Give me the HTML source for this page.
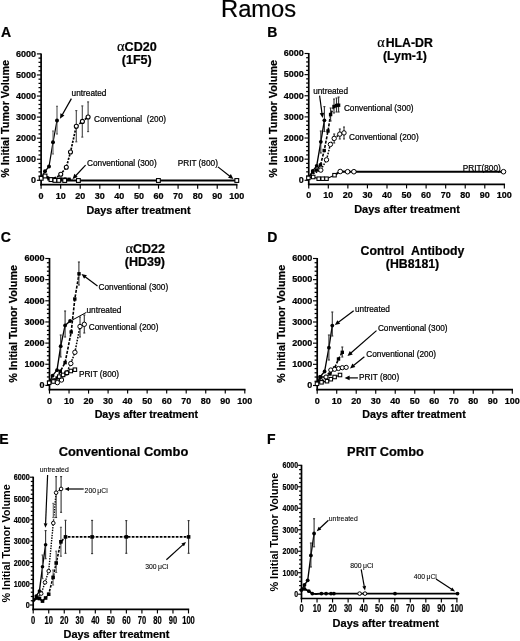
<!DOCTYPE html>
<html><head><meta charset="utf-8"><style>
html,body{margin:0;padding:0;background:#fff;}
svg{display:block;will-change:transform;}
text{font-family:"Liberation Sans", sans-serif;stroke:#000;stroke-width:0.22px;}
</style></head><body>
<svg width="520" height="641" viewBox="0 0 520 641">
<rect x="0" y="0" width="520" height="641" fill="#fff"/>
<text x="258.60" y="16.70" font-size="23.7" font-weight="normal" text-anchor="middle" fill="#000" >Ramos</text>
<text x="1.00" y="37.00" font-size="14" font-weight="bold" text-anchor="start" fill="#000" >A</text>
<text x="267.30" y="37.00" font-size="14" font-weight="bold" text-anchor="start" fill="#000" >B</text>
<text x="0.80" y="242.00" font-size="14" font-weight="bold" text-anchor="start" fill="#000" >C</text>
<text x="267.30" y="242.00" font-size="14" font-weight="bold" text-anchor="start" fill="#000" >D</text>
<text x="-0.80" y="443.90" font-size="14" font-weight="bold" text-anchor="start" fill="#000" >E</text>
<text x="266.90" y="443.80" font-size="14" font-weight="bold" text-anchor="start" fill="#000" >F</text>
<line x1="41.10" y1="53.40" x2="41.10" y2="185.50" stroke="#000" stroke-width="1.7" />
<line x1="40.30" y1="184.70" x2="237.50" y2="184.70" stroke="#000" stroke-width="1.7" />
<line x1="36.90" y1="180.30" x2="41.10" y2="180.30" stroke="#000" stroke-width="1.15" />
<line x1="38.50" y1="176.09" x2="41.10" y2="176.09" stroke="#000" stroke-width="1.25" />
<line x1="38.50" y1="171.87" x2="41.10" y2="171.87" stroke="#000" stroke-width="1.25" />
<line x1="38.50" y1="167.66" x2="41.10" y2="167.66" stroke="#000" stroke-width="1.25" />
<line x1="38.50" y1="163.45" x2="41.10" y2="163.45" stroke="#000" stroke-width="1.25" />
<line x1="36.90" y1="159.23" x2="41.10" y2="159.23" stroke="#000" stroke-width="1.15" />
<line x1="38.50" y1="155.02" x2="41.10" y2="155.02" stroke="#000" stroke-width="1.25" />
<line x1="38.50" y1="150.81" x2="41.10" y2="150.81" stroke="#000" stroke-width="1.25" />
<line x1="38.50" y1="146.59" x2="41.10" y2="146.59" stroke="#000" stroke-width="1.25" />
<line x1="38.50" y1="142.38" x2="41.10" y2="142.38" stroke="#000" stroke-width="1.25" />
<line x1="36.90" y1="138.17" x2="41.10" y2="138.17" stroke="#000" stroke-width="1.15" />
<line x1="38.50" y1="133.95" x2="41.10" y2="133.95" stroke="#000" stroke-width="1.25" />
<line x1="38.50" y1="129.74" x2="41.10" y2="129.74" stroke="#000" stroke-width="1.25" />
<line x1="38.50" y1="125.53" x2="41.10" y2="125.53" stroke="#000" stroke-width="1.25" />
<line x1="38.50" y1="121.31" x2="41.10" y2="121.31" stroke="#000" stroke-width="1.25" />
<line x1="36.90" y1="117.10" x2="41.10" y2="117.10" stroke="#000" stroke-width="1.15" />
<line x1="38.50" y1="112.89" x2="41.10" y2="112.89" stroke="#000" stroke-width="1.25" />
<line x1="38.50" y1="108.67" x2="41.10" y2="108.67" stroke="#000" stroke-width="1.25" />
<line x1="38.50" y1="104.46" x2="41.10" y2="104.46" stroke="#000" stroke-width="1.25" />
<line x1="38.50" y1="100.25" x2="41.10" y2="100.25" stroke="#000" stroke-width="1.25" />
<line x1="36.90" y1="96.03" x2="41.10" y2="96.03" stroke="#000" stroke-width="1.15" />
<line x1="38.50" y1="91.82" x2="41.10" y2="91.82" stroke="#000" stroke-width="1.25" />
<line x1="38.50" y1="87.61" x2="41.10" y2="87.61" stroke="#000" stroke-width="1.25" />
<line x1="38.50" y1="83.39" x2="41.10" y2="83.39" stroke="#000" stroke-width="1.25" />
<line x1="38.50" y1="79.18" x2="41.10" y2="79.18" stroke="#000" stroke-width="1.25" />
<line x1="36.90" y1="74.97" x2="41.10" y2="74.97" stroke="#000" stroke-width="1.15" />
<line x1="38.50" y1="70.75" x2="41.10" y2="70.75" stroke="#000" stroke-width="1.25" />
<line x1="38.50" y1="66.54" x2="41.10" y2="66.54" stroke="#000" stroke-width="1.25" />
<line x1="38.50" y1="62.33" x2="41.10" y2="62.33" stroke="#000" stroke-width="1.25" />
<line x1="38.50" y1="58.11" x2="41.10" y2="58.11" stroke="#000" stroke-width="1.25" />
<line x1="36.90" y1="53.90" x2="41.10" y2="53.90" stroke="#000" stroke-width="1.15" />
<text x="36.10" y="183.09" font-size="9" font-weight="bold" text-anchor="end" fill="#000" >0</text>
<text x="36.10" y="162.02" font-size="9" font-weight="bold" text-anchor="end" fill="#000" >1000</text>
<text x="36.10" y="140.96" font-size="9" font-weight="bold" text-anchor="end" fill="#000" >2000</text>
<text x="36.10" y="119.89" font-size="9" font-weight="bold" text-anchor="end" fill="#000" >3000</text>
<text x="36.10" y="98.82" font-size="9" font-weight="bold" text-anchor="end" fill="#000" >4000</text>
<text x="36.10" y="77.76" font-size="9" font-weight="bold" text-anchor="end" fill="#000" >5000</text>
<text x="36.10" y="56.69" font-size="9" font-weight="bold" text-anchor="end" fill="#000" >6000</text>
<line x1="41.10" y1="184.70" x2="41.10" y2="188.70" stroke="#000" stroke-width="1.15" />
<text x="41.10" y="198.70" font-size="9" font-weight="bold" text-anchor="middle" fill="#000" >0</text>
<line x1="60.67" y1="184.70" x2="60.67" y2="188.70" stroke="#000" stroke-width="1.15" />
<text x="60.67" y="198.70" font-size="9" font-weight="bold" text-anchor="middle" fill="#000" >10</text>
<line x1="80.24" y1="184.70" x2="80.24" y2="188.70" stroke="#000" stroke-width="1.15" />
<text x="80.24" y="198.70" font-size="9" font-weight="bold" text-anchor="middle" fill="#000" >20</text>
<line x1="99.81" y1="184.70" x2="99.81" y2="188.70" stroke="#000" stroke-width="1.15" />
<text x="99.81" y="198.70" font-size="9" font-weight="bold" text-anchor="middle" fill="#000" >30</text>
<line x1="119.38" y1="184.70" x2="119.38" y2="188.70" stroke="#000" stroke-width="1.15" />
<text x="119.38" y="198.70" font-size="9" font-weight="bold" text-anchor="middle" fill="#000" >40</text>
<line x1="138.95" y1="184.70" x2="138.95" y2="188.70" stroke="#000" stroke-width="1.15" />
<text x="138.95" y="198.70" font-size="9" font-weight="bold" text-anchor="middle" fill="#000" >50</text>
<line x1="158.52" y1="184.70" x2="158.52" y2="188.70" stroke="#000" stroke-width="1.15" />
<text x="158.52" y="198.70" font-size="9" font-weight="bold" text-anchor="middle" fill="#000" >60</text>
<line x1="178.09" y1="184.70" x2="178.09" y2="188.70" stroke="#000" stroke-width="1.15" />
<text x="178.09" y="198.70" font-size="9" font-weight="bold" text-anchor="middle" fill="#000" >70</text>
<line x1="197.66" y1="184.70" x2="197.66" y2="188.70" stroke="#000" stroke-width="1.15" />
<text x="197.66" y="198.70" font-size="9" font-weight="bold" text-anchor="middle" fill="#000" >80</text>
<line x1="217.23" y1="184.70" x2="217.23" y2="188.70" stroke="#000" stroke-width="1.15" />
<text x="217.23" y="198.70" font-size="9" font-weight="bold" text-anchor="middle" fill="#000" >90</text>
<line x1="236.80" y1="184.70" x2="236.80" y2="188.70" stroke="#000" stroke-width="1.15" />
<text x="236.80" y="198.70" font-size="9" font-weight="bold" text-anchor="middle" fill="#000" >100</text>
<text transform="translate(8.90,118.85) rotate(-90)" x="0" y="0" font-size="10.8" font-weight="bold" text-anchor="middle">% Initial Tumor Volume</text>
<text x="138.55" y="213.85" font-size="10.75" font-weight="bold" text-anchor="middle" fill="#000" >Days after treatment</text>
<text x="136.90" y="50.70" font-size="12.6" font-weight="bold" text-anchor="middle" fill="#000" ><tspan font-family="Liberation Serif" font-weight="normal" font-size="1.15em">&#945;</tspan>CD20</text>
<text x="136.75" y="64.00" font-size="12.6" font-weight="bold" text-anchor="middle" fill="#000" >(1F5)</text>
<polyline points="41.20,178.30 45.00,176.00 51.00,179.60 54.90,180.40 58.80,180.40 64.70,180.50 78.40,180.50 158.40,180.50 236.80,180.50" fill="none" stroke="#000" stroke-width="2.2" stroke-linejoin="round"/>
<polyline points="41.20,178.50 45.00,177.00 49.00,178.50 53.00,179.00 57.00,179.20 61.00,179.20 65.00,179.00 69.00,179.50 73.00,179.50" fill="none" stroke="#000" stroke-width="1.4" stroke-dasharray="2,1.2" stroke-linejoin="round"/>
<rect x="47.30" y="177.10" width="3.4" height="3.4" fill="#000"/>
<rect x="51.30" y="177.30" width="3.4" height="3.4" fill="#000"/>
<rect x="55.30" y="177.50" width="3.4" height="3.4" fill="#000"/>
<rect x="59.30" y="177.30" width="3.4" height="3.4" fill="#000"/>
<rect x="63.30" y="177.30" width="3.4" height="3.4" fill="#000"/>
<rect x="67.30" y="177.60" width="3.4" height="3.4" fill="#000"/>
<polyline points="41.20,178.30 45.00,171.30 49.00,166.50 53.00,142.30 57.00,120.60" fill="none" stroke="#000" stroke-width="1.2" stroke-linejoin="round"/>
<line x1="53.00" y1="131.00" x2="53.00" y2="154.00" stroke="#666" stroke-width="1.1" />
<line x1="52.00" y1="131.00" x2="54.00" y2="131.00" stroke="#666" stroke-width="1.1" />
<line x1="52.00" y1="154.00" x2="54.00" y2="154.00" stroke="#666" stroke-width="1.1" />
<line x1="57.00" y1="106.30" x2="57.00" y2="134.00" stroke="#555" stroke-width="1.1" />
<line x1="56.00" y1="106.30" x2="58.00" y2="106.30" stroke="#555" stroke-width="1.1" />
<line x1="56.00" y1="134.00" x2="58.00" y2="134.00" stroke="#555" stroke-width="1.1" />
<circle cx="45.00" cy="171.30" r="2.0" fill="#000"/>
<circle cx="49.00" cy="166.50" r="2.0" fill="#000"/>
<circle cx="53.00" cy="142.30" r="2.0" fill="#000"/>
<circle cx="57.00" cy="120.60" r="2.0" fill="#000"/>
<polyline points="41.20,178.30 45.00,175.80 49.00,177.50 53.00,178.50 57.00,177.00 60.75,174.20 66.30,167.30 70.50,152.00 76.30,126.20 82.40,121.40 88.10,117.00" fill="none" stroke="#000" stroke-width="1.7" stroke-dasharray="2.2,1.3" stroke-linejoin="round"/>
<line x1="76.30" y1="110.60" x2="76.30" y2="141.80" stroke="#444" stroke-width="1.1" />
<line x1="75.30" y1="110.60" x2="77.30" y2="110.60" stroke="#444" stroke-width="1.1" />
<line x1="75.30" y1="141.80" x2="77.30" y2="141.80" stroke="#444" stroke-width="1.1" />
<line x1="82.30" y1="105.90" x2="82.30" y2="137.10" stroke="#444" stroke-width="1.1" />
<line x1="81.30" y1="105.90" x2="83.30" y2="105.90" stroke="#444" stroke-width="1.1" />
<line x1="81.30" y1="137.10" x2="83.30" y2="137.10" stroke="#444" stroke-width="1.1" />
<line x1="88.10" y1="101.90" x2="88.10" y2="131.60" stroke="#444" stroke-width="1.1" />
<line x1="87.10" y1="101.90" x2="89.10" y2="101.90" stroke="#444" stroke-width="1.1" />
<line x1="87.10" y1="131.60" x2="89.10" y2="131.60" stroke="#444" stroke-width="1.1" />
<circle cx="60.75" cy="174.20" r="2.0" fill="#fff" stroke="#000" stroke-width="1.1"/>
<circle cx="66.30" cy="167.30" r="2.0" fill="#fff" stroke="#000" stroke-width="1.1"/>
<circle cx="70.50" cy="152.00" r="2.0" fill="#fff" stroke="#000" stroke-width="1.1"/>
<circle cx="76.30" cy="126.20" r="2.0" fill="#fff" stroke="#000" stroke-width="1.1"/>
<circle cx="82.40" cy="121.40" r="2.0" fill="#fff" stroke="#000" stroke-width="1.1"/>
<circle cx="88.10" cy="117.00" r="2.0" fill="#fff" stroke="#000" stroke-width="1.1"/>
<rect x="39.30" y="176.40" width="3.8" height="3.8" fill="#fff" stroke="#000" stroke-width="1.1"/>
<rect x="43.10" y="174.10" width="3.8" height="3.8" fill="#fff" stroke="#000" stroke-width="1.1"/>
<rect x="49.10" y="177.70" width="3.8" height="3.8" fill="#fff" stroke="#000" stroke-width="1.1"/>
<rect x="53.00" y="178.50" width="3.8" height="3.8" fill="#fff" stroke="#000" stroke-width="1.1"/>
<rect x="56.90" y="178.50" width="3.8" height="3.8" fill="#fff" stroke="#000" stroke-width="1.1"/>
<rect x="62.80" y="178.60" width="3.8" height="3.8" fill="#fff" stroke="#000" stroke-width="1.1"/>
<rect x="76.50" y="178.60" width="3.8" height="3.8" fill="#fff" stroke="#000" stroke-width="1.1"/>
<rect x="156.50" y="178.60" width="3.8" height="3.8" fill="#fff" stroke="#000" stroke-width="1.1"/>
<rect x="234.90" y="178.60" width="3.8" height="3.8" fill="#fff" stroke="#000" stroke-width="1.1"/>
<text x="71.60" y="96.30" font-size="8.25" font-weight="normal" text-anchor="start" fill="#000" >untreated</text>
<line x1="71.40" y1="98.60" x2="62.21" y2="114.88" stroke="#000" stroke-width="1.2" />
<polygon points="60.00,118.80 60.45,113.32 64.46,115.58" fill="#000"/>
<text x="94.00" y="122.20" font-size="8.25" font-weight="normal" text-anchor="start" fill="#000" >Conventional&#160;&#160;(200)</text>
<text x="87.00" y="165.50" font-size="8.25" font-weight="normal" text-anchor="start" fill="#000" >Conventional (300)</text>
<line x1="85.60" y1="165.20" x2="75.69" y2="175.72" stroke="#000" stroke-width="1.2" />
<polygon points="72.60,179.00 74.35,173.78 77.70,176.94" fill="#000"/>
<text x="177.70" y="166.20" font-size="8.25" font-weight="normal" text-anchor="start" fill="#000" >PRIT (800)</text>
<line x1="217.90" y1="166.90" x2="229.85" y2="176.23" stroke="#000" stroke-width="1.2" />
<polygon points="233.40,179.00 228.04,177.74 230.87,174.11" fill="#000"/>
<line x1="308.75" y1="53.00" x2="308.75" y2="185.20" stroke="#000" stroke-width="1.7" />
<line x1="307.95" y1="184.40" x2="505.05" y2="184.40" stroke="#000" stroke-width="1.7" />
<line x1="304.55" y1="180.30" x2="308.75" y2="180.30" stroke="#000" stroke-width="1.15" />
<line x1="306.15" y1="176.07" x2="308.75" y2="176.07" stroke="#000" stroke-width="1.25" />
<line x1="306.15" y1="171.85" x2="308.75" y2="171.85" stroke="#000" stroke-width="1.25" />
<line x1="306.15" y1="167.62" x2="308.75" y2="167.62" stroke="#000" stroke-width="1.25" />
<line x1="306.15" y1="163.39" x2="308.75" y2="163.39" stroke="#000" stroke-width="1.25" />
<line x1="304.55" y1="159.17" x2="308.75" y2="159.17" stroke="#000" stroke-width="1.15" />
<line x1="306.15" y1="154.94" x2="308.75" y2="154.94" stroke="#000" stroke-width="1.25" />
<line x1="306.15" y1="150.71" x2="308.75" y2="150.71" stroke="#000" stroke-width="1.25" />
<line x1="306.15" y1="146.49" x2="308.75" y2="146.49" stroke="#000" stroke-width="1.25" />
<line x1="306.15" y1="142.26" x2="308.75" y2="142.26" stroke="#000" stroke-width="1.25" />
<line x1="304.55" y1="138.03" x2="308.75" y2="138.03" stroke="#000" stroke-width="1.15" />
<line x1="306.15" y1="133.81" x2="308.75" y2="133.81" stroke="#000" stroke-width="1.25" />
<line x1="306.15" y1="129.58" x2="308.75" y2="129.58" stroke="#000" stroke-width="1.25" />
<line x1="306.15" y1="125.35" x2="308.75" y2="125.35" stroke="#000" stroke-width="1.25" />
<line x1="306.15" y1="121.13" x2="308.75" y2="121.13" stroke="#000" stroke-width="1.25" />
<line x1="304.55" y1="116.90" x2="308.75" y2="116.90" stroke="#000" stroke-width="1.15" />
<line x1="306.15" y1="112.67" x2="308.75" y2="112.67" stroke="#000" stroke-width="1.25" />
<line x1="306.15" y1="108.45" x2="308.75" y2="108.45" stroke="#000" stroke-width="1.25" />
<line x1="306.15" y1="104.22" x2="308.75" y2="104.22" stroke="#000" stroke-width="1.25" />
<line x1="306.15" y1="99.99" x2="308.75" y2="99.99" stroke="#000" stroke-width="1.25" />
<line x1="304.55" y1="95.77" x2="308.75" y2="95.77" stroke="#000" stroke-width="1.15" />
<line x1="306.15" y1="91.54" x2="308.75" y2="91.54" stroke="#000" stroke-width="1.25" />
<line x1="306.15" y1="87.31" x2="308.75" y2="87.31" stroke="#000" stroke-width="1.25" />
<line x1="306.15" y1="83.09" x2="308.75" y2="83.09" stroke="#000" stroke-width="1.25" />
<line x1="306.15" y1="78.86" x2="308.75" y2="78.86" stroke="#000" stroke-width="1.25" />
<line x1="304.55" y1="74.63" x2="308.75" y2="74.63" stroke="#000" stroke-width="1.15" />
<line x1="306.15" y1="70.41" x2="308.75" y2="70.41" stroke="#000" stroke-width="1.25" />
<line x1="306.15" y1="66.18" x2="308.75" y2="66.18" stroke="#000" stroke-width="1.25" />
<line x1="306.15" y1="61.95" x2="308.75" y2="61.95" stroke="#000" stroke-width="1.25" />
<line x1="306.15" y1="57.73" x2="308.75" y2="57.73" stroke="#000" stroke-width="1.25" />
<line x1="304.55" y1="53.50" x2="308.75" y2="53.50" stroke="#000" stroke-width="1.15" />
<text x="303.75" y="183.09" font-size="9" font-weight="bold" text-anchor="end" fill="#000" >0</text>
<text x="303.75" y="161.96" font-size="9" font-weight="bold" text-anchor="end" fill="#000" >1000</text>
<text x="303.75" y="140.82" font-size="9" font-weight="bold" text-anchor="end" fill="#000" >2000</text>
<text x="303.75" y="119.69" font-size="9" font-weight="bold" text-anchor="end" fill="#000" >3000</text>
<text x="303.75" y="98.56" font-size="9" font-weight="bold" text-anchor="end" fill="#000" >4000</text>
<text x="303.75" y="77.42" font-size="9" font-weight="bold" text-anchor="end" fill="#000" >5000</text>
<text x="303.75" y="56.29" font-size="9" font-weight="bold" text-anchor="end" fill="#000" >6000</text>
<line x1="308.75" y1="184.40" x2="308.75" y2="188.40" stroke="#000" stroke-width="1.15" />
<text x="308.75" y="198.40" font-size="9" font-weight="bold" text-anchor="middle" fill="#000" >0</text>
<line x1="328.31" y1="184.40" x2="328.31" y2="188.40" stroke="#000" stroke-width="1.15" />
<text x="328.31" y="198.40" font-size="9" font-weight="bold" text-anchor="middle" fill="#000" >10</text>
<line x1="347.87" y1="184.40" x2="347.87" y2="188.40" stroke="#000" stroke-width="1.15" />
<text x="347.87" y="198.40" font-size="9" font-weight="bold" text-anchor="middle" fill="#000" >20</text>
<line x1="367.43" y1="184.40" x2="367.43" y2="188.40" stroke="#000" stroke-width="1.15" />
<text x="367.43" y="198.40" font-size="9" font-weight="bold" text-anchor="middle" fill="#000" >30</text>
<line x1="386.99" y1="184.40" x2="386.99" y2="188.40" stroke="#000" stroke-width="1.15" />
<text x="386.99" y="198.40" font-size="9" font-weight="bold" text-anchor="middle" fill="#000" >40</text>
<line x1="406.55" y1="184.40" x2="406.55" y2="188.40" stroke="#000" stroke-width="1.15" />
<text x="406.55" y="198.40" font-size="9" font-weight="bold" text-anchor="middle" fill="#000" >50</text>
<line x1="426.11" y1="184.40" x2="426.11" y2="188.40" stroke="#000" stroke-width="1.15" />
<text x="426.11" y="198.40" font-size="9" font-weight="bold" text-anchor="middle" fill="#000" >60</text>
<line x1="445.67" y1="184.40" x2="445.67" y2="188.40" stroke="#000" stroke-width="1.15" />
<text x="445.67" y="198.40" font-size="9" font-weight="bold" text-anchor="middle" fill="#000" >70</text>
<line x1="465.23" y1="184.40" x2="465.23" y2="188.40" stroke="#000" stroke-width="1.15" />
<text x="465.23" y="198.40" font-size="9" font-weight="bold" text-anchor="middle" fill="#000" >80</text>
<line x1="484.79" y1="184.40" x2="484.79" y2="188.40" stroke="#000" stroke-width="1.15" />
<text x="484.79" y="198.40" font-size="9" font-weight="bold" text-anchor="middle" fill="#000" >90</text>
<line x1="504.35" y1="184.40" x2="504.35" y2="188.40" stroke="#000" stroke-width="1.15" />
<text x="504.35" y="198.40" font-size="9" font-weight="bold" text-anchor="middle" fill="#000" >100</text>
<text transform="translate(276.60,118.90) rotate(-90)" x="0" y="0" font-size="10.8" font-weight="bold" text-anchor="middle">% Initial Tumor Volume</text>
<text x="407.05" y="212.70" font-size="10.95" font-weight="bold" text-anchor="middle" fill="#000" >Days after treatment</text>
<text x="405.00" y="47.10" font-size="12.3" font-weight="bold" text-anchor="middle" fill="#000" ><tspan font-family="Liberation Serif" font-weight="normal" font-size="1.15em">&#945;</tspan>&#8202;HLA-DR</text>
<text x="404.90" y="60.00" font-size="12.3" font-weight="bold" text-anchor="middle" fill="#000" >(Lym-1)</text>
<polyline points="308.40,177.90 313.20,177.00 318.70,178.70 322.70,178.70 326.50,178.70 334.50,175.20" fill="none" stroke="#000" stroke-width="1.2" stroke-linejoin="round"/>
<polyline points="334.50,175.20 340.20,171.50 347.60,171.70 353.90,171.70 503.50,171.70" fill="none" stroke="#000" stroke-width="2.0" stroke-linejoin="round"/>
<polyline points="308.60,177.50 312.70,171.00 316.70,165.80 320.80,141.80 324.40,120.30" fill="none" stroke="#000" stroke-width="1.35" stroke-linejoin="round"/>
<line x1="320.80" y1="131.00" x2="320.80" y2="153.00" stroke="#333" stroke-width="1.1" />
<line x1="319.80" y1="131.00" x2="321.80" y2="131.00" stroke="#333" stroke-width="1.1" />
<line x1="319.80" y1="153.00" x2="321.80" y2="153.00" stroke="#333" stroke-width="1.1" />
<line x1="324.40" y1="106.60" x2="324.40" y2="131.50" stroke="#333" stroke-width="1.1" />
<line x1="323.40" y1="106.60" x2="325.40" y2="106.60" stroke="#333" stroke-width="1.1" />
<line x1="323.40" y1="131.50" x2="325.40" y2="131.50" stroke="#333" stroke-width="1.1" />
<circle cx="312.70" cy="171.00" r="1.9" fill="#000"/>
<circle cx="316.70" cy="165.80" r="1.9" fill="#000"/>
<circle cx="320.80" cy="141.80" r="1.9" fill="#000"/>
<circle cx="324.40" cy="120.30" r="1.9" fill="#000"/>
<polyline points="308.60,177.50 312.70,172.00 316.70,170.00 320.50,165.00 324.20,150.50 328.00,131.00 330.60,114.50 334.00,106.50 336.50,105.50 338.60,105.20" fill="none" stroke="#000" stroke-width="1.6" stroke-dasharray="3,1.4" stroke-linejoin="round"/>
<line x1="330.60" y1="108.00" x2="330.60" y2="121.00" stroke="#333" stroke-width="1.1" />
<line x1="329.60" y1="108.00" x2="331.60" y2="108.00" stroke="#333" stroke-width="1.1" />
<line x1="329.60" y1="121.00" x2="331.60" y2="121.00" stroke="#333" stroke-width="1.1" />
<line x1="334.00" y1="99.00" x2="334.00" y2="113.00" stroke="#333" stroke-width="1.1" />
<line x1="333.00" y1="99.00" x2="335.00" y2="99.00" stroke="#333" stroke-width="1.1" />
<line x1="333.00" y1="113.00" x2="335.00" y2="113.00" stroke="#333" stroke-width="1.1" />
<line x1="336.50" y1="98.00" x2="336.50" y2="112.00" stroke="#333" stroke-width="1.1" />
<line x1="335.50" y1="98.00" x2="337.50" y2="98.00" stroke="#333" stroke-width="1.1" />
<line x1="335.50" y1="112.00" x2="337.50" y2="112.00" stroke="#333" stroke-width="1.1" />
<line x1="338.60" y1="97.00" x2="338.60" y2="112.00" stroke="#333" stroke-width="1.1" />
<line x1="337.60" y1="97.00" x2="339.60" y2="97.00" stroke="#333" stroke-width="1.1" />
<line x1="337.60" y1="112.00" x2="339.60" y2="112.00" stroke="#333" stroke-width="1.1" />
<rect x="311.00" y="170.30" width="3.4" height="3.4" fill="#000"/>
<rect x="315.00" y="168.30" width="3.4" height="3.4" fill="#000"/>
<rect x="318.80" y="163.30" width="3.4" height="3.4" fill="#000"/>
<rect x="322.50" y="148.80" width="3.4" height="3.4" fill="#000"/>
<rect x="326.30" y="129.30" width="3.4" height="3.4" fill="#000"/>
<rect x="328.90" y="112.80" width="3.4" height="3.4" fill="#000"/>
<rect x="332.30" y="104.80" width="3.4" height="3.4" fill="#000"/>
<rect x="334.80" y="103.80" width="3.4" height="3.4" fill="#000"/>
<rect x="336.90" y="103.50" width="3.4" height="3.4" fill="#000"/>
<polyline points="308.60,177.50 312.70,174.00 316.70,172.00 320.80,170.10 326.50,159.80 330.40,144.40 334.20,138.40 339.80,134.10 344.00,132.90" fill="none" stroke="#000" stroke-width="1.5" stroke-dasharray="1.6,1.3" stroke-linejoin="round"/>
<line x1="334.20" y1="134.00" x2="334.20" y2="143.00" stroke="#333" stroke-width="1.1" />
<line x1="333.20" y1="134.00" x2="335.20" y2="134.00" stroke="#333" stroke-width="1.1" />
<line x1="333.20" y1="143.00" x2="335.20" y2="143.00" stroke="#333" stroke-width="1.1" />
<line x1="339.80" y1="129.00" x2="339.80" y2="139.00" stroke="#333" stroke-width="1.1" />
<line x1="338.80" y1="129.00" x2="340.80" y2="129.00" stroke="#333" stroke-width="1.1" />
<line x1="338.80" y1="139.00" x2="340.80" y2="139.00" stroke="#333" stroke-width="1.1" />
<line x1="344.00" y1="127.00" x2="344.00" y2="139.00" stroke="#333" stroke-width="1.1" />
<line x1="343.00" y1="127.00" x2="345.00" y2="127.00" stroke="#333" stroke-width="1.1" />
<line x1="343.00" y1="139.00" x2="345.00" y2="139.00" stroke="#333" stroke-width="1.1" />
<circle cx="320.80" cy="170.10" r="2.2" fill="#fff" stroke="#000" stroke-width="1"/>
<circle cx="326.50" cy="159.80" r="2.2" fill="#fff" stroke="#000" stroke-width="1"/>
<circle cx="330.40" cy="144.40" r="2.2" fill="#fff" stroke="#000" stroke-width="1"/>
<circle cx="334.20" cy="138.40" r="2.2" fill="#fff" stroke="#000" stroke-width="1"/>
<circle cx="339.80" cy="134.10" r="2.2" fill="#fff" stroke="#000" stroke-width="1"/>
<circle cx="344.00" cy="132.90" r="2.2" fill="#fff" stroke="#000" stroke-width="1"/>
<rect x="306.65" y="176.15" width="3.5" height="3.5" fill="#fff" stroke="#000" stroke-width="1.05"/>
<rect x="311.45" y="175.25" width="3.5" height="3.5" fill="#fff" stroke="#000" stroke-width="1.05"/>
<rect x="316.95" y="176.95" width="3.5" height="3.5" fill="#fff" stroke="#000" stroke-width="1.05"/>
<rect x="320.95" y="176.95" width="3.5" height="3.5" fill="#fff" stroke="#000" stroke-width="1.05"/>
<rect x="324.75" y="176.95" width="3.5" height="3.5" fill="#fff" stroke="#000" stroke-width="1.05"/>
<rect x="332.75" y="173.45" width="3.5" height="3.5" fill="#fff" stroke="#000" stroke-width="1.05"/>
<circle cx="340.20" cy="171.50" r="2.3" fill="#fff" stroke="#000" stroke-width="1"/>
<circle cx="347.60" cy="171.70" r="2.3" fill="#fff" stroke="#000" stroke-width="1"/>
<circle cx="353.90" cy="171.70" r="2.3" fill="#fff" stroke="#000" stroke-width="1"/>
<circle cx="503.50" cy="171.70" r="2.3" fill="#fff" stroke="#000" stroke-width="1"/>
<text x="313.20" y="94.00" font-size="8.25" font-weight="normal" text-anchor="start" fill="#000" >untreated</text>
<line x1="319.60" y1="95.60" x2="322.00" y2="113.54" stroke="#000" stroke-width="1.2" />
<polygon points="322.60,118.00 319.66,113.35 324.22,112.74" fill="#000"/>
<text x="343.90" y="111.30" font-size="8.25" font-weight="normal" text-anchor="start" fill="#000" >Conventional (300)</text>
<text x="349.00" y="139.80" font-size="8.25" font-weight="normal" text-anchor="start" fill="#000" >Conventional (200)</text>
<text x="462.70" y="171.20" font-size="8.25" font-weight="normal" text-anchor="start" fill="#000" >PRIT(800)</text>
<line x1="49.50" y1="258.00" x2="49.50" y2="390.40" stroke="#000" stroke-width="1.7" />
<line x1="48.70" y1="389.60" x2="245.50" y2="389.60" stroke="#000" stroke-width="1.7" />
<line x1="45.30" y1="385.40" x2="49.50" y2="385.40" stroke="#000" stroke-width="1.15" />
<line x1="46.90" y1="381.17" x2="49.50" y2="381.17" stroke="#000" stroke-width="1.25" />
<line x1="46.90" y1="376.94" x2="49.50" y2="376.94" stroke="#000" stroke-width="1.25" />
<line x1="46.90" y1="372.71" x2="49.50" y2="372.71" stroke="#000" stroke-width="1.25" />
<line x1="46.90" y1="368.48" x2="49.50" y2="368.48" stroke="#000" stroke-width="1.25" />
<line x1="45.30" y1="364.25" x2="49.50" y2="364.25" stroke="#000" stroke-width="1.15" />
<line x1="46.90" y1="360.02" x2="49.50" y2="360.02" stroke="#000" stroke-width="1.25" />
<line x1="46.90" y1="355.79" x2="49.50" y2="355.79" stroke="#000" stroke-width="1.25" />
<line x1="46.90" y1="351.56" x2="49.50" y2="351.56" stroke="#000" stroke-width="1.25" />
<line x1="46.90" y1="347.33" x2="49.50" y2="347.33" stroke="#000" stroke-width="1.25" />
<line x1="45.30" y1="343.10" x2="49.50" y2="343.10" stroke="#000" stroke-width="1.15" />
<line x1="46.90" y1="338.87" x2="49.50" y2="338.87" stroke="#000" stroke-width="1.25" />
<line x1="46.90" y1="334.64" x2="49.50" y2="334.64" stroke="#000" stroke-width="1.25" />
<line x1="46.90" y1="330.41" x2="49.50" y2="330.41" stroke="#000" stroke-width="1.25" />
<line x1="46.90" y1="326.18" x2="49.50" y2="326.18" stroke="#000" stroke-width="1.25" />
<line x1="45.30" y1="321.95" x2="49.50" y2="321.95" stroke="#000" stroke-width="1.15" />
<line x1="46.90" y1="317.72" x2="49.50" y2="317.72" stroke="#000" stroke-width="1.25" />
<line x1="46.90" y1="313.49" x2="49.50" y2="313.49" stroke="#000" stroke-width="1.25" />
<line x1="46.90" y1="309.26" x2="49.50" y2="309.26" stroke="#000" stroke-width="1.25" />
<line x1="46.90" y1="305.03" x2="49.50" y2="305.03" stroke="#000" stroke-width="1.25" />
<line x1="45.30" y1="300.80" x2="49.50" y2="300.80" stroke="#000" stroke-width="1.15" />
<line x1="46.90" y1="296.57" x2="49.50" y2="296.57" stroke="#000" stroke-width="1.25" />
<line x1="46.90" y1="292.34" x2="49.50" y2="292.34" stroke="#000" stroke-width="1.25" />
<line x1="46.90" y1="288.11" x2="49.50" y2="288.11" stroke="#000" stroke-width="1.25" />
<line x1="46.90" y1="283.88" x2="49.50" y2="283.88" stroke="#000" stroke-width="1.25" />
<line x1="45.30" y1="279.65" x2="49.50" y2="279.65" stroke="#000" stroke-width="1.15" />
<line x1="46.90" y1="275.42" x2="49.50" y2="275.42" stroke="#000" stroke-width="1.25" />
<line x1="46.90" y1="271.19" x2="49.50" y2="271.19" stroke="#000" stroke-width="1.25" />
<line x1="46.90" y1="266.96" x2="49.50" y2="266.96" stroke="#000" stroke-width="1.25" />
<line x1="46.90" y1="262.73" x2="49.50" y2="262.73" stroke="#000" stroke-width="1.25" />
<line x1="45.30" y1="258.50" x2="49.50" y2="258.50" stroke="#000" stroke-width="1.15" />
<text x="44.50" y="388.19" font-size="9" font-weight="bold" text-anchor="end" fill="#000" >0</text>
<text x="44.50" y="367.04" font-size="9" font-weight="bold" text-anchor="end" fill="#000" >1000</text>
<text x="44.50" y="345.89" font-size="9" font-weight="bold" text-anchor="end" fill="#000" >2000</text>
<text x="44.50" y="324.74" font-size="9" font-weight="bold" text-anchor="end" fill="#000" >3000</text>
<text x="44.50" y="303.59" font-size="9" font-weight="bold" text-anchor="end" fill="#000" >4000</text>
<text x="44.50" y="282.44" font-size="9" font-weight="bold" text-anchor="end" fill="#000" >5000</text>
<text x="44.50" y="261.29" font-size="9" font-weight="bold" text-anchor="end" fill="#000" >6000</text>
<line x1="49.50" y1="389.60" x2="49.50" y2="393.60" stroke="#000" stroke-width="1.15" />
<text x="49.50" y="403.60" font-size="9" font-weight="bold" text-anchor="middle" fill="#000" >0</text>
<line x1="69.03" y1="389.60" x2="69.03" y2="393.60" stroke="#000" stroke-width="1.15" />
<text x="69.03" y="403.60" font-size="9" font-weight="bold" text-anchor="middle" fill="#000" >10</text>
<line x1="88.56" y1="389.60" x2="88.56" y2="393.60" stroke="#000" stroke-width="1.15" />
<text x="88.56" y="403.60" font-size="9" font-weight="bold" text-anchor="middle" fill="#000" >20</text>
<line x1="108.09" y1="389.60" x2="108.09" y2="393.60" stroke="#000" stroke-width="1.15" />
<text x="108.09" y="403.60" font-size="9" font-weight="bold" text-anchor="middle" fill="#000" >30</text>
<line x1="127.62" y1="389.60" x2="127.62" y2="393.60" stroke="#000" stroke-width="1.15" />
<text x="127.62" y="403.60" font-size="9" font-weight="bold" text-anchor="middle" fill="#000" >40</text>
<line x1="147.15" y1="389.60" x2="147.15" y2="393.60" stroke="#000" stroke-width="1.15" />
<text x="147.15" y="403.60" font-size="9" font-weight="bold" text-anchor="middle" fill="#000" >50</text>
<line x1="166.68" y1="389.60" x2="166.68" y2="393.60" stroke="#000" stroke-width="1.15" />
<text x="166.68" y="403.60" font-size="9" font-weight="bold" text-anchor="middle" fill="#000" >60</text>
<line x1="186.21" y1="389.60" x2="186.21" y2="393.60" stroke="#000" stroke-width="1.15" />
<text x="186.21" y="403.60" font-size="9" font-weight="bold" text-anchor="middle" fill="#000" >70</text>
<line x1="205.74" y1="389.60" x2="205.74" y2="393.60" stroke="#000" stroke-width="1.15" />
<text x="205.74" y="403.60" font-size="9" font-weight="bold" text-anchor="middle" fill="#000" >80</text>
<line x1="225.27" y1="389.60" x2="225.27" y2="393.60" stroke="#000" stroke-width="1.15" />
<text x="225.27" y="403.60" font-size="9" font-weight="bold" text-anchor="middle" fill="#000" >90</text>
<line x1="244.80" y1="389.60" x2="244.80" y2="393.60" stroke="#000" stroke-width="1.15" />
<text x="244.80" y="403.60" font-size="9" font-weight="bold" text-anchor="middle" fill="#000" >100</text>
<text transform="translate(17.20,323.90) rotate(-90)" x="0" y="0" font-size="10.8" font-weight="bold" text-anchor="middle">% Initial Tumor Volume</text>
<text x="146.35" y="417.70" font-size="10.7" font-weight="bold" text-anchor="middle" fill="#000" >Days after treatment</text>
<text x="145.20" y="252.70" font-size="12.5" font-weight="bold" text-anchor="middle" fill="#000" ><tspan font-family="Liberation Serif" font-weight="normal" font-size="1.15em">&#945;</tspan>CD22</text>
<text x="144.90" y="265.60" font-size="12.5" font-weight="bold" text-anchor="middle" fill="#000" >(HD39)</text>
<polyline points="49.20,382.80 53.40,381.50 59.20,376.60 63.10,374.90 66.90,372.80 70.80,371.00 74.90,369.70" fill="none" stroke="#000" stroke-width="1.2" stroke-linejoin="round"/>
<polyline points="49.30,382.20 52.60,375.70 57.00,370.20 60.70,346.20 65.10,325.40 70.10,321.00" fill="none" stroke="#000" stroke-width="1.35" stroke-linejoin="round"/>
<line x1="60.70" y1="335.00" x2="60.70" y2="357.00" stroke="#333" stroke-width="1.1" />
<line x1="59.70" y1="335.00" x2="61.70" y2="335.00" stroke="#333" stroke-width="1.1" />
<line x1="59.70" y1="357.00" x2="61.70" y2="357.00" stroke="#333" stroke-width="1.1" />
<line x1="65.10" y1="311.00" x2="65.10" y2="337.00" stroke="#333" stroke-width="1.1" />
<line x1="64.10" y1="311.00" x2="66.10" y2="311.00" stroke="#333" stroke-width="1.1" />
<line x1="64.10" y1="337.00" x2="66.10" y2="337.00" stroke="#333" stroke-width="1.1" />
<circle cx="52.60" cy="375.70" r="1.9" fill="#000"/>
<circle cx="57.00" cy="370.20" r="1.9" fill="#000"/>
<circle cx="60.70" cy="346.20" r="1.9" fill="#000"/>
<circle cx="65.10" cy="325.40" r="1.9" fill="#000"/>
<circle cx="70.10" cy="321.00" r="1.9" fill="#000"/>
<polyline points="49.30,382.20 53.20,380.00 57.10,378.00 60.30,371.30 65.10,362.60 71.20,332.00 74.80,299.00 79.00,273.80" fill="none" stroke="#000" stroke-width="1.6" stroke-dasharray="3,1.4" stroke-linejoin="round"/>
<line x1="78.90" y1="262.00" x2="78.90" y2="285.00" stroke="#333" stroke-width="1.1" />
<line x1="77.90" y1="262.00" x2="79.90" y2="262.00" stroke="#333" stroke-width="1.1" />
<line x1="77.90" y1="285.00" x2="79.90" y2="285.00" stroke="#333" stroke-width="1.1" />
<rect x="51.50" y="378.30" width="3.4" height="3.4" fill="#000"/>
<rect x="55.40" y="376.30" width="3.4" height="3.4" fill="#000"/>
<rect x="58.60" y="369.60" width="3.4" height="3.4" fill="#000"/>
<rect x="63.40" y="360.90" width="3.4" height="3.4" fill="#000"/>
<rect x="69.50" y="330.30" width="3.4" height="3.4" fill="#000"/>
<rect x="73.10" y="297.30" width="3.4" height="3.4" fill="#000"/>
<rect x="77.30" y="272.10" width="3.4" height="3.4" fill="#000"/>
<polyline points="49.30,382.20 57.40,382.60 61.50,380.00 66.50,373.00 70.80,363.50 74.90,352.30 80.00,326.50 84.30,324.30" fill="none" stroke="#000" stroke-width="1.5" stroke-dasharray="1.6,1.3" stroke-linejoin="round"/>
<line x1="80.00" y1="317.00" x2="80.00" y2="337.00" stroke="#333" stroke-width="1.1" />
<line x1="79.00" y1="317.00" x2="81.00" y2="317.00" stroke="#333" stroke-width="1.1" />
<line x1="79.00" y1="337.00" x2="81.00" y2="337.00" stroke="#333" stroke-width="1.1" />
<line x1="84.30" y1="315.00" x2="84.30" y2="333.00" stroke="#333" stroke-width="1.1" />
<line x1="83.30" y1="315.00" x2="85.30" y2="315.00" stroke="#333" stroke-width="1.1" />
<line x1="83.30" y1="333.00" x2="85.30" y2="333.00" stroke="#333" stroke-width="1.1" />
<circle cx="57.40" cy="382.60" r="2.2" fill="#fff" stroke="#000" stroke-width="1"/>
<circle cx="61.50" cy="380.00" r="2.2" fill="#fff" stroke="#000" stroke-width="1"/>
<circle cx="66.50" cy="373.00" r="2.2" fill="#fff" stroke="#000" stroke-width="1"/>
<circle cx="70.80" cy="363.50" r="2.2" fill="#fff" stroke="#000" stroke-width="1"/>
<circle cx="74.90" cy="352.30" r="2.2" fill="#fff" stroke="#000" stroke-width="1"/>
<circle cx="80.00" cy="326.50" r="2.2" fill="#fff" stroke="#000" stroke-width="1"/>
<circle cx="84.30" cy="324.30" r="2.2" fill="#fff" stroke="#000" stroke-width="1"/>
<rect x="47.45" y="381.05" width="3.5" height="3.5" fill="#fff" stroke="#000" stroke-width="1.05"/>
<rect x="51.65" y="379.75" width="3.5" height="3.5" fill="#fff" stroke="#000" stroke-width="1.05"/>
<rect x="57.45" y="374.85" width="3.5" height="3.5" fill="#fff" stroke="#000" stroke-width="1.05"/>
<rect x="61.35" y="373.15" width="3.5" height="3.5" fill="#fff" stroke="#000" stroke-width="1.05"/>
<rect x="65.15" y="371.05" width="3.5" height="3.5" fill="#fff" stroke="#000" stroke-width="1.05"/>
<rect x="69.05" y="369.25" width="3.5" height="3.5" fill="#fff" stroke="#000" stroke-width="1.05"/>
<rect x="73.15" y="367.95" width="3.5" height="3.5" fill="#fff" stroke="#000" stroke-width="1.05"/>
<text x="98.50" y="289.80" font-size="8.25" font-weight="normal" text-anchor="start" fill="#000" >Conventional (300)</text>
<line x1="97.50" y1="286.00" x2="85.10" y2="276.70" stroke="#000" stroke-width="1.2" />
<polygon points="81.50,274.00 86.88,275.16 84.12,278.84" fill="#000"/>
<text x="86.50" y="312.90" font-size="8.25" font-weight="normal" text-anchor="start" fill="#000" >untreated</text>
<line x1="86.50" y1="312.30" x2="71.50" y2="320.50" stroke="#000" stroke-width="1.0" />
<text x="88.70" y="329.80" font-size="8.25" font-weight="normal" text-anchor="start" fill="#000" >Conventional (200)</text>
<text x="78.90" y="377.40" font-size="8.25" font-weight="normal" text-anchor="start" fill="#000" >PRIT (800)</text>
<line x1="317.20" y1="258.00" x2="317.20" y2="390.50" stroke="#000" stroke-width="1.7" />
<line x1="316.40" y1="389.70" x2="513.00" y2="389.70" stroke="#000" stroke-width="1.7" />
<line x1="313.00" y1="385.50" x2="317.20" y2="385.50" stroke="#000" stroke-width="1.15" />
<line x1="314.60" y1="381.27" x2="317.20" y2="381.27" stroke="#000" stroke-width="1.25" />
<line x1="314.60" y1="377.03" x2="317.20" y2="377.03" stroke="#000" stroke-width="1.25" />
<line x1="314.60" y1="372.80" x2="317.20" y2="372.80" stroke="#000" stroke-width="1.25" />
<line x1="314.60" y1="368.57" x2="317.20" y2="368.57" stroke="#000" stroke-width="1.25" />
<line x1="313.00" y1="364.33" x2="317.20" y2="364.33" stroke="#000" stroke-width="1.15" />
<line x1="314.60" y1="360.10" x2="317.20" y2="360.10" stroke="#000" stroke-width="1.25" />
<line x1="314.60" y1="355.87" x2="317.20" y2="355.87" stroke="#000" stroke-width="1.25" />
<line x1="314.60" y1="351.63" x2="317.20" y2="351.63" stroke="#000" stroke-width="1.25" />
<line x1="314.60" y1="347.40" x2="317.20" y2="347.40" stroke="#000" stroke-width="1.25" />
<line x1="313.00" y1="343.17" x2="317.20" y2="343.17" stroke="#000" stroke-width="1.15" />
<line x1="314.60" y1="338.93" x2="317.20" y2="338.93" stroke="#000" stroke-width="1.25" />
<line x1="314.60" y1="334.70" x2="317.20" y2="334.70" stroke="#000" stroke-width="1.25" />
<line x1="314.60" y1="330.47" x2="317.20" y2="330.47" stroke="#000" stroke-width="1.25" />
<line x1="314.60" y1="326.23" x2="317.20" y2="326.23" stroke="#000" stroke-width="1.25" />
<line x1="313.00" y1="322.00" x2="317.20" y2="322.00" stroke="#000" stroke-width="1.15" />
<line x1="314.60" y1="317.77" x2="317.20" y2="317.77" stroke="#000" stroke-width="1.25" />
<line x1="314.60" y1="313.53" x2="317.20" y2="313.53" stroke="#000" stroke-width="1.25" />
<line x1="314.60" y1="309.30" x2="317.20" y2="309.30" stroke="#000" stroke-width="1.25" />
<line x1="314.60" y1="305.07" x2="317.20" y2="305.07" stroke="#000" stroke-width="1.25" />
<line x1="313.00" y1="300.83" x2="317.20" y2="300.83" stroke="#000" stroke-width="1.15" />
<line x1="314.60" y1="296.60" x2="317.20" y2="296.60" stroke="#000" stroke-width="1.25" />
<line x1="314.60" y1="292.37" x2="317.20" y2="292.37" stroke="#000" stroke-width="1.25" />
<line x1="314.60" y1="288.13" x2="317.20" y2="288.13" stroke="#000" stroke-width="1.25" />
<line x1="314.60" y1="283.90" x2="317.20" y2="283.90" stroke="#000" stroke-width="1.25" />
<line x1="313.00" y1="279.67" x2="317.20" y2="279.67" stroke="#000" stroke-width="1.15" />
<line x1="314.60" y1="275.43" x2="317.20" y2="275.43" stroke="#000" stroke-width="1.25" />
<line x1="314.60" y1="271.20" x2="317.20" y2="271.20" stroke="#000" stroke-width="1.25" />
<line x1="314.60" y1="266.97" x2="317.20" y2="266.97" stroke="#000" stroke-width="1.25" />
<line x1="314.60" y1="262.73" x2="317.20" y2="262.73" stroke="#000" stroke-width="1.25" />
<line x1="313.00" y1="258.50" x2="317.20" y2="258.50" stroke="#000" stroke-width="1.15" />
<text x="312.20" y="388.29" font-size="9" font-weight="bold" text-anchor="end" fill="#000" >0</text>
<text x="312.20" y="367.12" font-size="9" font-weight="bold" text-anchor="end" fill="#000" >1000</text>
<text x="312.20" y="345.96" font-size="9" font-weight="bold" text-anchor="end" fill="#000" >2000</text>
<text x="312.20" y="324.79" font-size="9" font-weight="bold" text-anchor="end" fill="#000" >3000</text>
<text x="312.20" y="303.62" font-size="9" font-weight="bold" text-anchor="end" fill="#000" >4000</text>
<text x="312.20" y="282.46" font-size="9" font-weight="bold" text-anchor="end" fill="#000" >5000</text>
<text x="312.20" y="261.29" font-size="9" font-weight="bold" text-anchor="end" fill="#000" >6000</text>
<line x1="317.20" y1="389.70" x2="317.20" y2="393.70" stroke="#000" stroke-width="1.15" />
<text x="317.20" y="403.70" font-size="9" font-weight="bold" text-anchor="middle" fill="#000" >0</text>
<line x1="336.71" y1="389.70" x2="336.71" y2="393.70" stroke="#000" stroke-width="1.15" />
<text x="336.71" y="403.70" font-size="9" font-weight="bold" text-anchor="middle" fill="#000" >10</text>
<line x1="356.22" y1="389.70" x2="356.22" y2="393.70" stroke="#000" stroke-width="1.15" />
<text x="356.22" y="403.70" font-size="9" font-weight="bold" text-anchor="middle" fill="#000" >20</text>
<line x1="375.73" y1="389.70" x2="375.73" y2="393.70" stroke="#000" stroke-width="1.15" />
<text x="375.73" y="403.70" font-size="9" font-weight="bold" text-anchor="middle" fill="#000" >30</text>
<line x1="395.24" y1="389.70" x2="395.24" y2="393.70" stroke="#000" stroke-width="1.15" />
<text x="395.24" y="403.70" font-size="9" font-weight="bold" text-anchor="middle" fill="#000" >40</text>
<line x1="414.75" y1="389.70" x2="414.75" y2="393.70" stroke="#000" stroke-width="1.15" />
<text x="414.75" y="403.70" font-size="9" font-weight="bold" text-anchor="middle" fill="#000" >50</text>
<line x1="434.26" y1="389.70" x2="434.26" y2="393.70" stroke="#000" stroke-width="1.15" />
<text x="434.26" y="403.70" font-size="9" font-weight="bold" text-anchor="middle" fill="#000" >60</text>
<line x1="453.77" y1="389.70" x2="453.77" y2="393.70" stroke="#000" stroke-width="1.15" />
<text x="453.77" y="403.70" font-size="9" font-weight="bold" text-anchor="middle" fill="#000" >70</text>
<line x1="473.28" y1="389.70" x2="473.28" y2="393.70" stroke="#000" stroke-width="1.15" />
<text x="473.28" y="403.70" font-size="9" font-weight="bold" text-anchor="middle" fill="#000" >80</text>
<line x1="492.79" y1="389.70" x2="492.79" y2="393.70" stroke="#000" stroke-width="1.15" />
<text x="492.79" y="403.70" font-size="9" font-weight="bold" text-anchor="middle" fill="#000" >90</text>
<line x1="512.30" y1="389.70" x2="512.30" y2="393.70" stroke="#000" stroke-width="1.15" />
<text x="512.30" y="403.70" font-size="9" font-weight="bold" text-anchor="middle" fill="#000" >100</text>
<text transform="translate(284.70,323.90) rotate(-90)" x="0" y="0" font-size="10.85" font-weight="bold" text-anchor="middle">% Initial Tumor Volume</text>
<text x="414.05" y="418.40" font-size="10.7" font-weight="bold" text-anchor="middle" fill="#000" >Days after treatment</text>
<text x="412.50" y="255.00" font-size="12.3" font-weight="bold" text-anchor="middle" fill="#000" >Control&#160;&#160;Antibody</text>
<text x="412.50" y="268.20" font-size="12.3" font-weight="bold" text-anchor="middle" fill="#000" >(HB8181)</text>
<polyline points="317.00,383.80 321.50,382.30 327.00,381.20 330.80,379.20 334.60,377.00 340.00,375.00" fill="none" stroke="#000" stroke-width="1.2" stroke-linejoin="round"/>
<polyline points="317.00,383.80 320.00,376.90 324.60,371.50 328.90,347.70 332.30,325.60" fill="none" stroke="#000" stroke-width="1.35" stroke-linejoin="round"/>
<line x1="328.90" y1="335.00" x2="328.90" y2="360.00" stroke="#333" stroke-width="1.1" />
<line x1="327.90" y1="335.00" x2="329.90" y2="335.00" stroke="#333" stroke-width="1.1" />
<line x1="327.90" y1="360.00" x2="329.90" y2="360.00" stroke="#333" stroke-width="1.1" />
<line x1="332.30" y1="312.00" x2="332.30" y2="336.00" stroke="#333" stroke-width="1.1" />
<line x1="331.30" y1="312.00" x2="333.30" y2="312.00" stroke="#333" stroke-width="1.1" />
<line x1="331.30" y1="336.00" x2="333.30" y2="336.00" stroke="#333" stroke-width="1.1" />
<circle cx="320.00" cy="376.90" r="1.9" fill="#000"/>
<circle cx="324.60" cy="371.50" r="1.9" fill="#000"/>
<circle cx="328.90" cy="347.70" r="1.9" fill="#000"/>
<circle cx="332.30" cy="325.60" r="1.9" fill="#000"/>
<polyline points="317.00,383.80 320.50,377.00 326.00,377.00 330.00,374.00 334.60,368.00 338.50,359.00 342.30,352.30" fill="none" stroke="#000" stroke-width="1.6" stroke-dasharray="3,1.4" stroke-linejoin="round"/>
<line x1="342.30" y1="347.00" x2="342.30" y2="357.00" stroke="#333" stroke-width="1.1" />
<line x1="341.30" y1="347.00" x2="343.30" y2="347.00" stroke="#333" stroke-width="1.1" />
<line x1="341.30" y1="357.00" x2="343.30" y2="357.00" stroke="#333" stroke-width="1.1" />
<rect x="318.80" y="375.30" width="3.4" height="3.4" fill="#000"/>
<rect x="324.30" y="375.30" width="3.4" height="3.4" fill="#000"/>
<rect x="328.30" y="372.30" width="3.4" height="3.4" fill="#000"/>
<rect x="332.90" y="366.30" width="3.4" height="3.4" fill="#000"/>
<rect x="336.80" y="357.30" width="3.4" height="3.4" fill="#000"/>
<rect x="340.60" y="350.60" width="3.4" height="3.4" fill="#000"/>
<polyline points="317.00,383.80 321.50,381.00 326.00,377.00 330.80,370.00 334.60,369.30 338.50,368.50 342.30,367.70 346.20,367.40" fill="none" stroke="#000" stroke-width="1.5" stroke-dasharray="1.6,1.3" stroke-linejoin="round"/>
<circle cx="321.50" cy="381.00" r="2.1" fill="#fff" stroke="#000" stroke-width="1"/>
<circle cx="326.00" cy="377.00" r="2.1" fill="#fff" stroke="#000" stroke-width="1"/>
<circle cx="330.80" cy="370.00" r="2.1" fill="#fff" stroke="#000" stroke-width="1"/>
<circle cx="334.60" cy="369.30" r="2.1" fill="#fff" stroke="#000" stroke-width="1"/>
<circle cx="338.50" cy="368.50" r="2.1" fill="#fff" stroke="#000" stroke-width="1"/>
<circle cx="342.30" cy="367.70" r="2.1" fill="#fff" stroke="#000" stroke-width="1"/>
<circle cx="346.20" cy="367.40" r="2.1" fill="#fff" stroke="#000" stroke-width="1"/>
<rect x="315.25" y="382.05" width="3.5" height="3.5" fill="#fff" stroke="#000" stroke-width="1.05"/>
<rect x="319.75" y="380.55" width="3.5" height="3.5" fill="#fff" stroke="#000" stroke-width="1.05"/>
<rect x="325.25" y="379.45" width="3.5" height="3.5" fill="#fff" stroke="#000" stroke-width="1.05"/>
<rect x="329.05" y="377.45" width="3.5" height="3.5" fill="#fff" stroke="#000" stroke-width="1.05"/>
<rect x="332.85" y="375.25" width="3.5" height="3.5" fill="#fff" stroke="#000" stroke-width="1.05"/>
<rect x="338.25" y="373.25" width="3.5" height="3.5" fill="#fff" stroke="#000" stroke-width="1.05"/>
<text x="355.00" y="312.20" font-size="8.25" font-weight="normal" text-anchor="start" fill="#000" >untreated</text>
<line x1="353.70" y1="310.80" x2="338.40" y2="322.30" stroke="#000" stroke-width="1.2" />
<polygon points="334.80,325.00 337.42,320.16 340.18,323.84" fill="#000"/>
<text x="377.90" y="330.50" font-size="8.25" font-weight="normal" text-anchor="start" fill="#000" >Conventional (300)</text>
<line x1="376.50" y1="330.60" x2="350.89" y2="353.04" stroke="#000" stroke-width="1.2" />
<polygon points="347.50,356.00 349.75,350.98 352.78,354.44" fill="#000"/>
<text x="366.30" y="356.60" font-size="8.25" font-weight="normal" text-anchor="start" fill="#000" >Conventional (200)</text>
<line x1="364.40" y1="356.80" x2="353.50" y2="365.58" stroke="#000" stroke-width="1.2" />
<polygon points="350.00,368.40 352.45,363.47 355.34,367.05" fill="#000"/>
<text x="359.00" y="380.30" font-size="8.25" font-weight="normal" text-anchor="start" fill="#000" >PRIT (800)</text>
<line x1="357.90" y1="377.90" x2="349.10" y2="377.90" stroke="#000" stroke-width="1.2" />
<polygon points="344.60,377.90 349.60,375.60 349.60,380.20" fill="#000"/>
<line x1="33.20" y1="476.70" x2="33.20" y2="610.25" stroke="#000" stroke-width="1.7" />
<line x1="32.40" y1="609.45" x2="189.20" y2="609.45" stroke="#000" stroke-width="1.7" />
<line x1="29.80" y1="605.00" x2="33.20" y2="605.00" stroke="#000" stroke-width="1.15" />
<line x1="30.80" y1="600.74" x2="33.20" y2="600.74" stroke="#000" stroke-width="1.25" />
<line x1="30.80" y1="596.48" x2="33.20" y2="596.48" stroke="#000" stroke-width="1.25" />
<line x1="30.80" y1="592.22" x2="33.20" y2="592.22" stroke="#000" stroke-width="1.25" />
<line x1="30.80" y1="587.96" x2="33.20" y2="587.96" stroke="#000" stroke-width="1.25" />
<line x1="29.80" y1="583.70" x2="33.20" y2="583.70" stroke="#000" stroke-width="1.15" />
<line x1="30.80" y1="579.44" x2="33.20" y2="579.44" stroke="#000" stroke-width="1.25" />
<line x1="30.80" y1="575.18" x2="33.20" y2="575.18" stroke="#000" stroke-width="1.25" />
<line x1="30.80" y1="570.92" x2="33.20" y2="570.92" stroke="#000" stroke-width="1.25" />
<line x1="30.80" y1="566.66" x2="33.20" y2="566.66" stroke="#000" stroke-width="1.25" />
<line x1="29.80" y1="562.40" x2="33.20" y2="562.40" stroke="#000" stroke-width="1.15" />
<line x1="30.80" y1="558.14" x2="33.20" y2="558.14" stroke="#000" stroke-width="1.25" />
<line x1="30.80" y1="553.88" x2="33.20" y2="553.88" stroke="#000" stroke-width="1.25" />
<line x1="30.80" y1="549.62" x2="33.20" y2="549.62" stroke="#000" stroke-width="1.25" />
<line x1="30.80" y1="545.36" x2="33.20" y2="545.36" stroke="#000" stroke-width="1.25" />
<line x1="29.80" y1="541.10" x2="33.20" y2="541.10" stroke="#000" stroke-width="1.15" />
<line x1="30.80" y1="536.84" x2="33.20" y2="536.84" stroke="#000" stroke-width="1.25" />
<line x1="30.80" y1="532.58" x2="33.20" y2="532.58" stroke="#000" stroke-width="1.25" />
<line x1="30.80" y1="528.32" x2="33.20" y2="528.32" stroke="#000" stroke-width="1.25" />
<line x1="30.80" y1="524.06" x2="33.20" y2="524.06" stroke="#000" stroke-width="1.25" />
<line x1="29.80" y1="519.80" x2="33.20" y2="519.80" stroke="#000" stroke-width="1.15" />
<line x1="30.80" y1="515.54" x2="33.20" y2="515.54" stroke="#000" stroke-width="1.25" />
<line x1="30.80" y1="511.28" x2="33.20" y2="511.28" stroke="#000" stroke-width="1.25" />
<line x1="30.80" y1="507.02" x2="33.20" y2="507.02" stroke="#000" stroke-width="1.25" />
<line x1="30.80" y1="502.76" x2="33.20" y2="502.76" stroke="#000" stroke-width="1.25" />
<line x1="29.80" y1="498.50" x2="33.20" y2="498.50" stroke="#000" stroke-width="1.15" />
<line x1="30.80" y1="494.24" x2="33.20" y2="494.24" stroke="#000" stroke-width="1.25" />
<line x1="30.80" y1="489.98" x2="33.20" y2="489.98" stroke="#000" stroke-width="1.25" />
<line x1="30.80" y1="485.72" x2="33.20" y2="485.72" stroke="#000" stroke-width="1.25" />
<line x1="30.80" y1="481.46" x2="33.20" y2="481.46" stroke="#000" stroke-width="1.25" />
<line x1="29.80" y1="477.20" x2="33.20" y2="477.20" stroke="#000" stroke-width="1.15" />
<g transform="translate(29.80,605.00) scale(0.76,1)"><text x="0" y="3.14" font-size="9.5" font-weight="bold" text-anchor="end">0</text></g>
<g transform="translate(29.80,583.70) scale(0.76,1)"><text x="0" y="3.14" font-size="9.5" font-weight="bold" text-anchor="end">1000</text></g>
<g transform="translate(29.80,562.40) scale(0.76,1)"><text x="0" y="3.14" font-size="9.5" font-weight="bold" text-anchor="end">2000</text></g>
<g transform="translate(29.80,541.10) scale(0.76,1)"><text x="0" y="3.14" font-size="9.5" font-weight="bold" text-anchor="end">3000</text></g>
<g transform="translate(29.80,519.80) scale(0.76,1)"><text x="0" y="3.14" font-size="9.5" font-weight="bold" text-anchor="end">4000</text></g>
<g transform="translate(29.80,498.50) scale(0.76,1)"><text x="0" y="3.14" font-size="9.5" font-weight="bold" text-anchor="end">5000</text></g>
<g transform="translate(29.80,477.20) scale(0.76,1)"><text x="0" y="3.14" font-size="9.5" font-weight="bold" text-anchor="end">6000</text></g>
<line x1="33.20" y1="609.45" x2="33.20" y2="613.45" stroke="#000" stroke-width="1.15" />
<g transform="translate(33.20,623.50) scale(0.74,1)"><text x="0" y="0" font-size="10.2" font-weight="bold" text-anchor="middle">0</text></g>
<line x1="48.73" y1="609.45" x2="48.73" y2="613.45" stroke="#000" stroke-width="1.15" />
<g transform="translate(48.73,623.50) scale(0.74,1)"><text x="0" y="0" font-size="10.2" font-weight="bold" text-anchor="middle">10</text></g>
<line x1="64.26" y1="609.45" x2="64.26" y2="613.45" stroke="#000" stroke-width="1.15" />
<g transform="translate(64.26,623.50) scale(0.74,1)"><text x="0" y="0" font-size="10.2" font-weight="bold" text-anchor="middle">20</text></g>
<line x1="79.79" y1="609.45" x2="79.79" y2="613.45" stroke="#000" stroke-width="1.15" />
<g transform="translate(79.79,623.50) scale(0.74,1)"><text x="0" y="0" font-size="10.2" font-weight="bold" text-anchor="middle">30</text></g>
<line x1="95.32" y1="609.45" x2="95.32" y2="613.45" stroke="#000" stroke-width="1.15" />
<g transform="translate(95.32,623.50) scale(0.74,1)"><text x="0" y="0" font-size="10.2" font-weight="bold" text-anchor="middle">40</text></g>
<line x1="110.85" y1="609.45" x2="110.85" y2="613.45" stroke="#000" stroke-width="1.15" />
<g transform="translate(110.85,623.50) scale(0.74,1)"><text x="0" y="0" font-size="10.2" font-weight="bold" text-anchor="middle">50</text></g>
<line x1="126.38" y1="609.45" x2="126.38" y2="613.45" stroke="#000" stroke-width="1.15" />
<g transform="translate(126.38,623.50) scale(0.74,1)"><text x="0" y="0" font-size="10.2" font-weight="bold" text-anchor="middle">60</text></g>
<line x1="141.91" y1="609.45" x2="141.91" y2="613.45" stroke="#000" stroke-width="1.15" />
<g transform="translate(141.91,623.50) scale(0.74,1)"><text x="0" y="0" font-size="10.2" font-weight="bold" text-anchor="middle">70</text></g>
<line x1="157.44" y1="609.45" x2="157.44" y2="613.45" stroke="#000" stroke-width="1.15" />
<g transform="translate(157.44,623.50) scale(0.74,1)"><text x="0" y="0" font-size="10.2" font-weight="bold" text-anchor="middle">80</text></g>
<line x1="172.97" y1="609.45" x2="172.97" y2="613.45" stroke="#000" stroke-width="1.15" />
<g transform="translate(172.97,623.50) scale(0.74,1)"><text x="0" y="0" font-size="10.2" font-weight="bold" text-anchor="middle">90</text></g>
<line x1="188.50" y1="609.45" x2="188.50" y2="613.45" stroke="#000" stroke-width="1.15" />
<g transform="translate(188.50,623.50) scale(0.74,1)"><text x="0" y="0" font-size="10.2" font-weight="bold" text-anchor="middle">100</text></g>
<text transform="translate(9.80,543.40) rotate(-90)" x="0" y="0" font-size="10.85" font-weight="bold" text-anchor="middle" style="stroke-width:0.0px">% Initial Tumor Volume</text>
<text x="116.45" y="638.00" font-size="10.95" font-weight="bold" text-anchor="middle" fill="#000" >Days after treatment</text>
<text x="123.50" y="456.40" font-size="12.9" font-weight="bold" text-anchor="middle" fill="#000" >Conventional Combo</text>
<polyline points="33.10,601.70 36.90,598.00 39.50,598.50 42.50,601.10 45.60,598.00 48.70,594.20 53.10,577.40 56.20,563.00 60.90,541.80 65.50,536.90 92.10,536.90 126.30,536.90 188.60,536.90" fill="none" stroke="#000" stroke-width="1.6" stroke-dasharray="2.7,1.3" stroke-linejoin="round"/>
<line x1="65.50" y1="520.30" x2="65.50" y2="553.30" stroke="#333" stroke-width="1.1" />
<line x1="64.50" y1="520.30" x2="66.50" y2="520.30" stroke="#333" stroke-width="1.1" />
<line x1="64.50" y1="553.30" x2="66.50" y2="553.30" stroke="#333" stroke-width="1.1" />
<line x1="92.10" y1="520.40" x2="92.10" y2="553.60" stroke="#333" stroke-width="1.1" />
<line x1="91.10" y1="520.40" x2="93.10" y2="520.40" stroke="#333" stroke-width="1.1" />
<line x1="91.10" y1="553.60" x2="93.10" y2="553.60" stroke="#333" stroke-width="1.1" />
<line x1="126.30" y1="520.60" x2="126.30" y2="553.30" stroke="#333" stroke-width="1.1" />
<line x1="125.30" y1="520.60" x2="127.30" y2="520.60" stroke="#333" stroke-width="1.1" />
<line x1="125.30" y1="553.30" x2="127.30" y2="553.30" stroke="#333" stroke-width="1.1" />
<line x1="188.60" y1="520.60" x2="188.60" y2="553.30" stroke="#333" stroke-width="1.1" />
<line x1="187.60" y1="520.60" x2="189.60" y2="520.60" stroke="#333" stroke-width="1.1" />
<line x1="187.60" y1="553.30" x2="189.60" y2="553.30" stroke="#333" stroke-width="1.1" />
<line x1="56.20" y1="551.20" x2="56.20" y2="572.40" stroke="#555" stroke-width="1.1" />
<line x1="55.20" y1="551.20" x2="57.20" y2="551.20" stroke="#555" stroke-width="1.1" />
<line x1="55.20" y1="572.40" x2="57.20" y2="572.40" stroke="#555" stroke-width="1.1" />
<line x1="60.90" y1="527.30" x2="60.90" y2="556.20" stroke="#555" stroke-width="1.1" />
<line x1="59.90" y1="527.30" x2="61.90" y2="527.30" stroke="#555" stroke-width="1.1" />
<line x1="59.90" y1="556.20" x2="61.90" y2="556.20" stroke="#555" stroke-width="1.1" />
<line x1="53.10" y1="570.00" x2="53.10" y2="585.00" stroke="#666" stroke-width="1.1" />
<line x1="52.10" y1="570.00" x2="54.10" y2="570.00" stroke="#666" stroke-width="1.1" />
<line x1="52.10" y1="585.00" x2="54.10" y2="585.00" stroke="#666" stroke-width="1.1" />
<rect x="35.10" y="596.20" width="3.6" height="3.6" fill="#000"/>
<rect x="37.70" y="596.70" width="3.6" height="3.6" fill="#000"/>
<rect x="40.70" y="599.30" width="3.6" height="3.6" fill="#000"/>
<rect x="43.80" y="596.20" width="3.6" height="3.6" fill="#000"/>
<rect x="46.90" y="592.40" width="3.6" height="3.6" fill="#000"/>
<rect x="51.30" y="575.60" width="3.6" height="3.6" fill="#000"/>
<rect x="54.40" y="561.20" width="3.6" height="3.6" fill="#000"/>
<rect x="59.10" y="540.00" width="3.6" height="3.6" fill="#000"/>
<rect x="63.70" y="535.10" width="3.6" height="3.6" fill="#000"/>
<rect x="90.30" y="535.10" width="3.6" height="3.6" fill="#000"/>
<rect x="124.50" y="535.10" width="3.6" height="3.6" fill="#000"/>
<rect x="186.80" y="535.10" width="3.6" height="3.6" fill="#000"/>
<polyline points="33.10,601.70 36.20,596.10 39.40,591.10 42.50,566.80 45.60,544.70" fill="none" stroke="#000" stroke-width="1.35" stroke-linejoin="round"/>
<line x1="45.60" y1="530.60" x2="45.60" y2="558.70" stroke="#333" stroke-width="1.1" />
<line x1="44.60" y1="530.60" x2="46.60" y2="530.60" stroke="#333" stroke-width="1.1" />
<line x1="44.60" y1="558.70" x2="46.60" y2="558.70" stroke="#333" stroke-width="1.1" />
<line x1="42.50" y1="555.00" x2="42.50" y2="578.60" stroke="#555" stroke-width="1.1" />
<line x1="41.50" y1="555.00" x2="43.50" y2="555.00" stroke="#555" stroke-width="1.1" />
<line x1="41.50" y1="578.60" x2="43.50" y2="578.60" stroke="#555" stroke-width="1.1" />
<circle cx="36.20" cy="596.10" r="1.8" fill="#000"/>
<circle cx="39.40" cy="591.10" r="1.8" fill="#000"/>
<circle cx="42.50" cy="566.80" r="1.8" fill="#000"/>
<circle cx="45.60" cy="544.70" r="1.8" fill="#000"/>
<polyline points="33.10,601.70 37.00,598.00 41.20,593.60 45.00,582.40 48.70,571.10 53.30,523.10 56.10,492.70 61.10,488.90" fill="none" stroke="#000" stroke-width="1.4" stroke-dasharray="1.4,1.2" stroke-linejoin="round"/>
<line x1="56.10" y1="476.60" x2="56.10" y2="517.50" stroke="#333" stroke-width="1.1" />
<line x1="55.10" y1="476.60" x2="57.10" y2="476.60" stroke="#333" stroke-width="1.1" />
<line x1="55.10" y1="517.50" x2="57.10" y2="517.50" stroke="#333" stroke-width="1.1" />
<line x1="61.10" y1="476.60" x2="61.10" y2="512.30" stroke="#333" stroke-width="1.1" />
<line x1="60.10" y1="476.60" x2="62.10" y2="476.60" stroke="#333" stroke-width="1.1" />
<line x1="60.10" y1="512.30" x2="62.10" y2="512.30" stroke="#333" stroke-width="1.1" />
<line x1="53.30" y1="503.40" x2="53.30" y2="517.50" stroke="#666" stroke-width="1.1" />
<line x1="52.30" y1="503.40" x2="54.30" y2="503.40" stroke="#666" stroke-width="1.1" />
<line x1="52.30" y1="517.50" x2="54.30" y2="517.50" stroke="#666" stroke-width="1.1" />
<circle cx="41.20" cy="593.60" r="1.8" fill="#fff" stroke="#000" stroke-width="1"/>
<circle cx="45.00" cy="582.40" r="1.8" fill="#fff" stroke="#000" stroke-width="1"/>
<circle cx="48.70" cy="571.10" r="1.8" fill="#fff" stroke="#000" stroke-width="1"/>
<circle cx="53.30" cy="523.10" r="1.8" fill="#fff" stroke="#000" stroke-width="1"/>
<circle cx="56.10" cy="492.70" r="1.8" fill="#fff" stroke="#000" stroke-width="1"/>
<circle cx="61.10" cy="488.90" r="1.8" fill="#fff" stroke="#000" stroke-width="1"/>
<g transform="translate(39.8,472.1) scale(0.95,1)"><text x="0" y="0" font-size="7.2" style="stroke-width:0.08px">untreated</text></g>
<line x1="47.60" y1="475.00" x2="45.57" y2="523.80" stroke="#000" stroke-width="1.2" />
<polygon points="45.40,527.80 43.69,523.22 47.49,523.38" fill="#000"/>
<line x1="83.70" y1="489.00" x2="68.50" y2="489.00" stroke="#000" stroke-width="1.2" />
<polygon points="64.50,489.00 69.00,487.10 69.00,490.90" fill="#000"/>
<g transform="translate(84.6,492.7) scale(0.95,1)"><text x="0" y="0" font-size="7.2" style="stroke-width:0.08px">200&#8201;&#956;Ci</text></g>
<g transform="translate(145.2,568.7) scale(0.95,1)"><text x="0" y="0" font-size="7.2" style="stroke-width:0.08px">300&#8201;&#956;Ci</text></g>
<line x1="166.40" y1="559.80" x2="183.05" y2="544.60" stroke="#000" stroke-width="1.2" />
<polygon points="186.00,541.90 183.96,546.34 181.40,543.53" fill="#000"/>
<line x1="301.50" y1="464.80" x2="301.50" y2="599.30" stroke="#000" stroke-width="1.7" />
<line x1="300.70" y1="598.50" x2="457.60" y2="598.50" stroke="#000" stroke-width="1.7" />
<line x1="298.10" y1="594.20" x2="301.50" y2="594.20" stroke="#000" stroke-width="1.15" />
<line x1="299.10" y1="589.90" x2="301.50" y2="589.90" stroke="#000" stroke-width="1.25" />
<line x1="299.10" y1="585.61" x2="301.50" y2="585.61" stroke="#000" stroke-width="1.25" />
<line x1="299.10" y1="581.31" x2="301.50" y2="581.31" stroke="#000" stroke-width="1.25" />
<line x1="299.10" y1="577.01" x2="301.50" y2="577.01" stroke="#000" stroke-width="1.25" />
<line x1="298.10" y1="572.72" x2="301.50" y2="572.72" stroke="#000" stroke-width="1.15" />
<line x1="299.10" y1="568.42" x2="301.50" y2="568.42" stroke="#000" stroke-width="1.25" />
<line x1="299.10" y1="564.12" x2="301.50" y2="564.12" stroke="#000" stroke-width="1.25" />
<line x1="299.10" y1="559.83" x2="301.50" y2="559.83" stroke="#000" stroke-width="1.25" />
<line x1="299.10" y1="555.53" x2="301.50" y2="555.53" stroke="#000" stroke-width="1.25" />
<line x1="298.10" y1="551.23" x2="301.50" y2="551.23" stroke="#000" stroke-width="1.15" />
<line x1="299.10" y1="546.94" x2="301.50" y2="546.94" stroke="#000" stroke-width="1.25" />
<line x1="299.10" y1="542.64" x2="301.50" y2="542.64" stroke="#000" stroke-width="1.25" />
<line x1="299.10" y1="538.34" x2="301.50" y2="538.34" stroke="#000" stroke-width="1.25" />
<line x1="299.10" y1="534.05" x2="301.50" y2="534.05" stroke="#000" stroke-width="1.25" />
<line x1="298.10" y1="529.75" x2="301.50" y2="529.75" stroke="#000" stroke-width="1.15" />
<line x1="299.10" y1="525.45" x2="301.50" y2="525.45" stroke="#000" stroke-width="1.25" />
<line x1="299.10" y1="521.16" x2="301.50" y2="521.16" stroke="#000" stroke-width="1.25" />
<line x1="299.10" y1="516.86" x2="301.50" y2="516.86" stroke="#000" stroke-width="1.25" />
<line x1="299.10" y1="512.56" x2="301.50" y2="512.56" stroke="#000" stroke-width="1.25" />
<line x1="298.10" y1="508.27" x2="301.50" y2="508.27" stroke="#000" stroke-width="1.15" />
<line x1="299.10" y1="503.97" x2="301.50" y2="503.97" stroke="#000" stroke-width="1.25" />
<line x1="299.10" y1="499.67" x2="301.50" y2="499.67" stroke="#000" stroke-width="1.25" />
<line x1="299.10" y1="495.38" x2="301.50" y2="495.38" stroke="#000" stroke-width="1.25" />
<line x1="299.10" y1="491.08" x2="301.50" y2="491.08" stroke="#000" stroke-width="1.25" />
<line x1="298.10" y1="486.78" x2="301.50" y2="486.78" stroke="#000" stroke-width="1.15" />
<line x1="299.10" y1="482.49" x2="301.50" y2="482.49" stroke="#000" stroke-width="1.25" />
<line x1="299.10" y1="478.19" x2="301.50" y2="478.19" stroke="#000" stroke-width="1.25" />
<line x1="299.10" y1="473.89" x2="301.50" y2="473.89" stroke="#000" stroke-width="1.25" />
<line x1="299.10" y1="469.60" x2="301.50" y2="469.60" stroke="#000" stroke-width="1.25" />
<line x1="298.10" y1="465.30" x2="301.50" y2="465.30" stroke="#000" stroke-width="1.15" />
<g transform="translate(298.10,594.20) scale(0.74,1)"><text x="0" y="3.14" font-size="9.5" font-weight="bold" text-anchor="end">0</text></g>
<g transform="translate(298.10,572.72) scale(0.74,1)"><text x="0" y="3.14" font-size="9.5" font-weight="bold" text-anchor="end">1000</text></g>
<g transform="translate(298.10,551.23) scale(0.74,1)"><text x="0" y="3.14" font-size="9.5" font-weight="bold" text-anchor="end">2000</text></g>
<g transform="translate(298.10,529.75) scale(0.74,1)"><text x="0" y="3.14" font-size="9.5" font-weight="bold" text-anchor="end">3000</text></g>
<g transform="translate(298.10,508.27) scale(0.74,1)"><text x="0" y="3.14" font-size="9.5" font-weight="bold" text-anchor="end">4000</text></g>
<g transform="translate(298.10,486.78) scale(0.74,1)"><text x="0" y="3.14" font-size="9.5" font-weight="bold" text-anchor="end">5000</text></g>
<g transform="translate(298.10,465.30) scale(0.74,1)"><text x="0" y="3.14" font-size="9.5" font-weight="bold" text-anchor="end">6000</text></g>
<line x1="301.50" y1="598.50" x2="301.50" y2="602.50" stroke="#000" stroke-width="1.15" />
<g transform="translate(301.50,611.70) scale(0.74,1)"><text x="0" y="0" font-size="10.2" font-weight="bold" text-anchor="middle">0</text></g>
<line x1="317.04" y1="598.50" x2="317.04" y2="602.50" stroke="#000" stroke-width="1.15" />
<g transform="translate(317.04,611.70) scale(0.74,1)"><text x="0" y="0" font-size="10.2" font-weight="bold" text-anchor="middle">10</text></g>
<line x1="332.58" y1="598.50" x2="332.58" y2="602.50" stroke="#000" stroke-width="1.15" />
<g transform="translate(332.58,611.70) scale(0.74,1)"><text x="0" y="0" font-size="10.2" font-weight="bold" text-anchor="middle">20</text></g>
<line x1="348.12" y1="598.50" x2="348.12" y2="602.50" stroke="#000" stroke-width="1.15" />
<g transform="translate(348.12,611.70) scale(0.74,1)"><text x="0" y="0" font-size="10.2" font-weight="bold" text-anchor="middle">30</text></g>
<line x1="363.66" y1="598.50" x2="363.66" y2="602.50" stroke="#000" stroke-width="1.15" />
<g transform="translate(363.66,611.70) scale(0.74,1)"><text x="0" y="0" font-size="10.2" font-weight="bold" text-anchor="middle">40</text></g>
<line x1="379.20" y1="598.50" x2="379.20" y2="602.50" stroke="#000" stroke-width="1.15" />
<g transform="translate(379.20,611.70) scale(0.74,1)"><text x="0" y="0" font-size="10.2" font-weight="bold" text-anchor="middle">50</text></g>
<line x1="394.74" y1="598.50" x2="394.74" y2="602.50" stroke="#000" stroke-width="1.15" />
<g transform="translate(394.74,611.70) scale(0.74,1)"><text x="0" y="0" font-size="10.2" font-weight="bold" text-anchor="middle">60</text></g>
<line x1="410.28" y1="598.50" x2="410.28" y2="602.50" stroke="#000" stroke-width="1.15" />
<g transform="translate(410.28,611.70) scale(0.74,1)"><text x="0" y="0" font-size="10.2" font-weight="bold" text-anchor="middle">70</text></g>
<line x1="425.82" y1="598.50" x2="425.82" y2="602.50" stroke="#000" stroke-width="1.15" />
<g transform="translate(425.82,611.70) scale(0.74,1)"><text x="0" y="0" font-size="10.2" font-weight="bold" text-anchor="middle">80</text></g>
<line x1="441.36" y1="598.50" x2="441.36" y2="602.50" stroke="#000" stroke-width="1.15" />
<g transform="translate(441.36,611.70) scale(0.74,1)"><text x="0" y="0" font-size="10.2" font-weight="bold" text-anchor="middle">90</text></g>
<line x1="456.90" y1="598.50" x2="456.90" y2="602.50" stroke="#000" stroke-width="1.15" />
<g transform="translate(456.90,611.70) scale(0.74,1)"><text x="0" y="0" font-size="10.2" font-weight="bold" text-anchor="middle">100</text></g>
<text transform="translate(277.90,532.20) rotate(-90)" x="0" y="0" font-size="10.9" font-weight="bold" text-anchor="middle" style="stroke-width:0.0px">% Initial Tumor Volume</text>
<text x="385.80" y="627.00" font-size="11.0" font-weight="bold" text-anchor="middle" fill="#000" >Days after treatment</text>
<text x="385.50" y="455.90" font-size="12.8" font-weight="bold" text-anchor="middle" fill="#000" >PRIT Combo</text>
<polyline points="301.40,590.10 304.50,588.90 308.90,591.20 312.30,593.60 316.00,594.00 321.40,593.60 326.10,593.60 331.00,593.60 333.90,593.60 359.60,593.60 365.00,593.60 395.00,593.60 457.50,593.60" fill="none" stroke="#000" stroke-width="1.8" stroke-linejoin="round"/>
<polyline points="301.40,590.10 304.50,585.00 307.70,580.30 310.90,555.40 314.10,533.50" fill="none" stroke="#000" stroke-width="1.35" stroke-linejoin="round"/>
<line x1="314.10" y1="518.70" x2="314.10" y2="546.80" stroke="#333" stroke-width="1.1" />
<line x1="313.10" y1="518.70" x2="315.10" y2="518.70" stroke="#333" stroke-width="1.1" />
<line x1="313.10" y1="546.80" x2="315.10" y2="546.80" stroke="#333" stroke-width="1.1" />
<line x1="310.90" y1="543.00" x2="310.90" y2="567.00" stroke="#333" stroke-width="1.1" />
<line x1="309.90" y1="543.00" x2="311.90" y2="543.00" stroke="#333" stroke-width="1.1" />
<line x1="309.90" y1="567.00" x2="311.90" y2="567.00" stroke="#333" stroke-width="1.1" />
<circle cx="301.40" cy="590.10" r="1.9" fill="#000"/>
<circle cx="304.50" cy="585.00" r="1.9" fill="#000"/>
<circle cx="307.70" cy="580.30" r="1.9" fill="#000"/>
<circle cx="310.90" cy="555.40" r="1.9" fill="#000"/>
<circle cx="314.10" cy="533.50" r="1.9" fill="#000"/>
<circle cx="304.50" cy="588.90" r="1.9" fill="#000"/>
<circle cx="308.90" cy="591.20" r="1.9" fill="#000"/>
<circle cx="312.30" cy="593.60" r="1.9" fill="#000"/>
<circle cx="321.40" cy="593.60" r="1.9" fill="#000"/>
<circle cx="326.10" cy="593.60" r="1.9" fill="#000"/>
<circle cx="331.00" cy="593.60" r="1.9" fill="#000"/>
<circle cx="333.90" cy="593.60" r="1.9" fill="#000"/>
<circle cx="395.00" cy="593.60" r="1.9" fill="#000"/>
<circle cx="457.50" cy="593.60" r="1.9" fill="#000"/>
<circle cx="359.60" cy="593.60" r="1.8" fill="#fff" stroke="#000" stroke-width="1"/>
<circle cx="365.00" cy="593.60" r="1.8" fill="#fff" stroke="#000" stroke-width="1"/>
<g transform="translate(328.8,520.6) scale(0.95,1)"><text x="0" y="0" font-size="7.2" style="stroke-width:0.08px">untreated</text></g>
<line x1="328.40" y1="520.30" x2="319.63" y2="528.47" stroke="#000" stroke-width="1.2" />
<polygon points="316.70,531.20 318.70,526.74 321.29,529.52" fill="#000"/>
<g transform="translate(350.2,568.1) scale(0.95,1)"><text x="0" y="0" font-size="7.2" style="stroke-width:0.08px">800&#8201;&#956;Ci</text></g>
<line x1="361.20" y1="569.40" x2="364.29" y2="586.56" stroke="#000" stroke-width="1.2" />
<polygon points="365.00,590.50 362.33,586.41 366.07,585.73" fill="#000"/>
<g transform="translate(413.7,578.5) scale(0.95,1)"><text x="0" y="0" font-size="7.2" style="stroke-width:0.08px">400&#8201;&#956;Ci</text></g>
<line x1="436.00" y1="579.00" x2="451.66" y2="589.30" stroke="#000" stroke-width="1.2" />
<polygon points="455.00,591.50 450.20,590.61 452.28,587.44" fill="#000"/>
</svg>
</body></html>
